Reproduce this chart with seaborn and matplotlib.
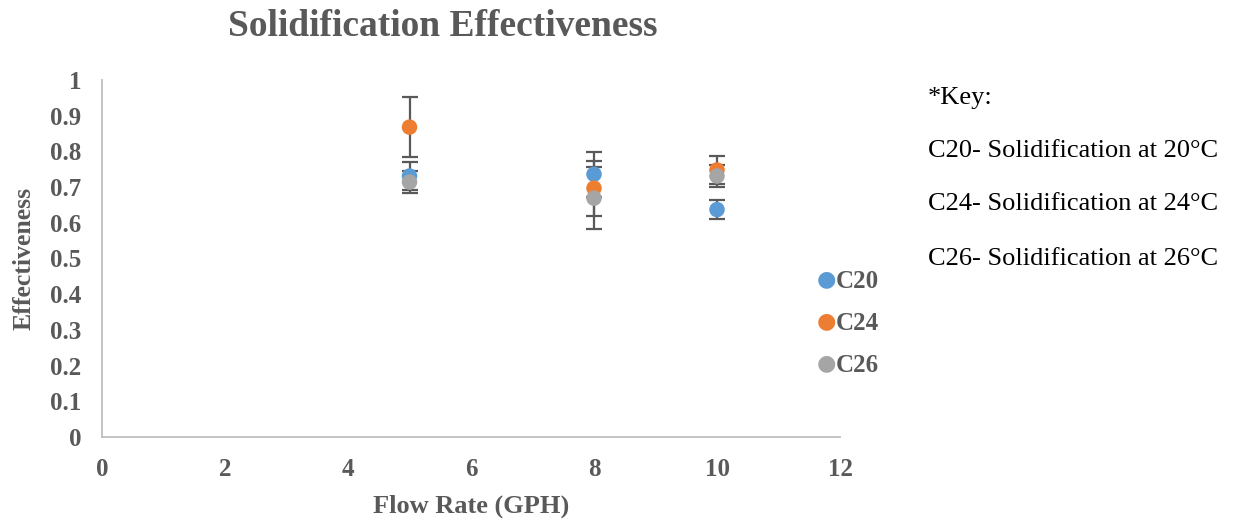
import matplotlib
matplotlib.use("Agg")
import matplotlib.pyplot as plt
import seaborn as sns
import pandas as pd

# Flow rates (GPH) and measured effectiveness for each solidification temperature
flow_rate = [5, 8, 10]
c20 = [0.731, 0.736, 0.637]
c24 = [0.868, 0.697, 0.748]
c26 = [0.714, 0.669, 0.731]
c20_err = [0.040, 0.063, 0.026]
c24_err = [0.083, 0.077, 0.039]
c26_err = [0.030, 0.086, 0.032]
series = ["C20", "C24", "C26"]
colors = ["#5b9bd5", "#ed7d31", "#a5a5a5"]
key_lines = ["*Key:",
             "C20- Solidification at 20°C",
             "C24- Solidification at 24°C",
             "C26- Solidification at 26°C"]

df = pd.DataFrame({
    "flow": flow_rate * 3,
    "eff": c20 + c24 + c26,
    "err": c20_err + c24_err + c26_err,
    "series": [s for s in series for _ in flow_rate],
})

sns.set_theme(style="white")
plt.rcParams["font.family"] = ["Liberation Serif", "DejaVu Serif"]

grey = "#595959"
fig = plt.figure(figsize=(12.34, 5.21), dpi=100)
ax = fig.add_axes([102 / 1234, 1 - 437 / 521, (840 - 102) / 1234, (437 - 80) / 521])

# error bars first so markers sit on top
for s, c in zip(series, colors):
    d = df[df["series"] == s]
    ax.errorbar(d["flow"], d["eff"], yerr=d["err"], fmt="none",
                ecolor=grey, elinewidth=1.6, capsize=6, capthick=1.6, zorder=2)

sns.scatterplot(data=df, x="flow", y="eff", hue="series", palette=colors,
                s=125, edgecolor="none", ax=ax, zorder=3, legend=False)

ax.set_xlim(0, 12)
ax.set_ylim(0, 1)
ax.set_xticks(range(0, 13, 2))
ax.set_yticks([i / 10 for i in range(11)])
ax.set_yticklabels(["0"] + [f"{i/10:.1f}" for i in range(1, 10)] + ["1"])
for lab in ax.get_xticklabels() + ax.get_yticklabels():
    lab.set_fontweight("bold")
    lab.set_fontsize(18)
    lab.set_color(grey)
ax.tick_params(axis="x", pad=15, length=0)
ax.tick_params(axis="y", pad=15, length=0)
for side in ["top", "right"]:
    ax.spines[side].set_visible(False)
for side in ["left", "bottom"]:
    ax.spines[side].set_color("#bfbfbf")
    ax.spines[side].set_linewidth(1.3)

ax.set_xlabel("Flow Rate (GPH)", fontsize=19, fontweight="bold", color=grey, labelpad=10)
ax.set_ylabel("Effectiveness", fontsize=18.5, fontweight="bold", color=grey, labelpad=10)

fig.text(443 / 1234, 1 - 26 / 521, "Solidification Effectiveness", ha="center", va="center",
         fontsize=27, fontweight="bold", color=grey)

# series legend to the right of the plot area
for i, (s, c) in enumerate(zip(series, colors)):
    y = 1 - (279 + 42 * i) / 521
    fig.text(826 / 1234, y, "●", color=c, fontsize=16, ha="center", va="center",
             family=["DejaVu Sans"])
    fig.text(836 / 1234, 1 - (281 + 42 * i) / 521, s, color=grey, fontsize=18,
             fontweight="bold", ha="left", va="center")

# explanatory key
for i, t in enumerate(key_lines):
    y = 1 - [98, 151, 204, 259][i] / 521
    fig.text(928 / 1234, y, t, color="black", fontsize=19, ha="left", va="center")

fig.savefig("out.png", dpi=100)
